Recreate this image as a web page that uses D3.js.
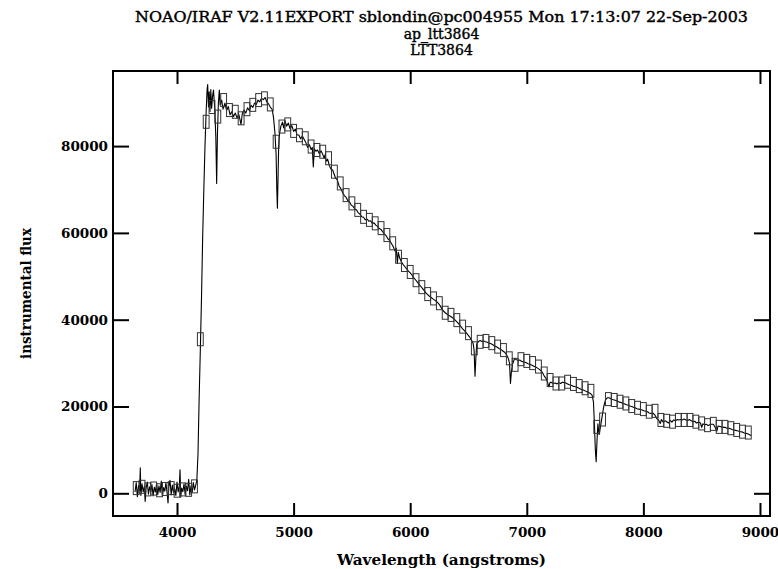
<!DOCTYPE html>
<html>
<head>
<meta charset="utf-8">
<script src="https://cdn.jsdelivr.net/npm/d3@7/dist/d3.min.js"></script>
<style>
body { margin: 0; background: #fff; }
text { font-family: "DejaVu Serif", serif; fill: #000; }
</style>
</head>
<body>
<div id="chart"></div>
<script>

var titleLines = ['NOAO/IRAF V2.11EXPORT sblondin@pc004955 Mon 17:13:07 22-Sep-2003', 'ap_ltt3864', 'LTT3864']
var xLabel = 'Wavelength (angstroms)'
var yLabel = 'instrumental flux'
var xTicks = [4000, 5000, 6000, 7000, 8000, 9000]
var yTicks = [0, 20000, 40000, 60000, 80000]

// bandpass boxes [wavelength, flux]
var bands = [
  [3650,1200],[3700,1500],[3750,900],[3800,1100],[3850,700],[3900,1000],[3950,1200],[4000,600],
  [4050,900],[4100,800],[4150,1600],[4200,35500],[4250,85600],[4300,89000],[4350,86800],[4400,90600],
  [4450,88300],[4500,87900],[4550,86400],[4600,88500],[4650,89500],[4700,90600],[4750,91000],[4800,89600],
  [4850,81000],[4900,84500],[4950,85000],[5000,83500],[5050,82500],[5100,81800],[5150,79900],[5200,79100],
  [5250,78700],[5300,77200],[5350,74100],[5400,71400],[5450,68700],[5500,66800],[5550,65300],[5600,63700],
  [5650,63000],[5700,62200],[5750,61100],[5800,59500],[5850,57600],[5900,54500],[5950,52600],[6000,51000],
  [6050,49100],[6100,47500],[6150,45900],[6200,44900],[6250,43800],[6300,41600],[6350,41100],[6400,39900],
  [6450,38400],[6500,36900],[6550,33400],[6600,34900],[6650,35100],[6700,34600],[6750,33800],[6800,33000],
  [6850,31100],[6900,29600],[6950,30900],[7000,30500],[7050,30000],[7100,29200],[7150,27600],[7200,26100],
  [7250,25300],[7300,25300],[7350,25700],[7400,25200],[7450,24700],[7500,24200],[7550,23600],[7600,15300],
  [7650,17000],[7700,21700],[7750,21500],[7800,21100],[7850,20700],[7900,20100],[7950,19700],[8000,19400],
  [8050,18800],[8100,19000],[8150,16900],[8200,16700],[8250,16500],[8300,16900],[8350,16900],[8400,16900],
  [8450,16500],[8500,16100],[8550,15700],[8600,16000],[8650,15300],[8700,15300],[8750,15000],[8800,14600],
  [8850,14200],[8900,14000]
]

// observed spectrum [wavelength, flux]
var spectrum = [
  [3640,300],[3650,2500],[3660,-800],[3670,1800],[3680,600],[3685,5900],[3690,-500],[3700,2200],
  [3710,300],[3720,1600],[3727,-1900],[3735,1200],[3745,2600],[3755,-200],[3765,1500],[3775,400],
  [3785,2000],[3795,-600],[3805,1400],[3815,300],[3825,2300],[3835,-300],[3845,1700],[3855,200],
  [3865,2800],[3875,-700],[3885,1300],[3895,500],[3905,2400],[3915,100],[3923,-2200],[3930,1500],
  [3940,3000],[3950,-400],[3960,1900],[3970,200],[3980,1000],[3990,-500],[4000,2600],[4010,300],
  [4020,1800],[4026,5400],[4032,-900],[4040,1200],[4050,400],[4060,2200],[4070,-300],[4080,1600],
  [4090,600],[4100,3200],[4110,-400],[4120,1700],[4130,200],[4140,2500],[4150,800],[4160,1800],
  [4170,3000],[4180,9000],[4190,22000],[4200,33000],[4210,45000],[4220,59000],[4230,70000],[4240,80000],
  [4250,88000],[4258,93000],[4263,94200],[4270,89000],[4276,92500],[4283,88000],[4290,93000],[4297,88700],
  [4305,91500],[4313,92900],[4325,88000],[4333,82000],[4340,71400],[4347,83000],[4355,90000],[4363,92900],
  [4370,89500],[4383,90600],[4395,88500],[4411,89900],[4425,88200],[4440,89100],[4455,87200],[4469,87900],
  [4485,86800],[4500,87600],[4515,86500],[4530,87300],[4549,85000],[4560,87500],[4575,88300],[4590,87600],
  [4605,88800],[4620,88200],[4635,89400],[4650,88900],[4665,89900],[4680,89600],[4695,90600],[4710,90200],
  [4725,91000],[4740,90700],[4755,91200],[4770,90200],[4783,89800],[4800,89000],[4817,88400],[4828,86500],
  [4840,83000],[4850,78000],[4856,70000],[4861,65700],[4866,72000],[4872,80000],[4880,83000],[4891,84600],
  [4905,85500],[4915,84200],[4926,85800],[4940,84600],[4955,85300],[4970,84000],[4985,84700],[5000,83400],
  [5015,83900],[5030,82600],[5046,82500],[5060,81700],[5075,82300],[5091,81500],[5105,80800],[5120,79700],
  [5135,80300],[5150,79200],[5160,79700],[5169,75200],[5178,79400],[5191,78800],[5205,79100],[5220,78300],
  [5235,78900],[5250,78100],[5262,77200],[5270,78000],[5280,76500],[5292,77000],[5305,75600],[5320,74700],
  [5335,74500],[5348,73500],[5360,72600],[5375,72200],[5390,70800],[5405,70200],[5420,69300],[5435,68600],
  [5450,68200],[5465,67400],[5480,67100],[5495,66400],[5510,66100],[5525,65500],[5540,65300],[5555,64600],
  [5570,64300],[5585,63700],[5600,63600],[5615,63000],[5630,63200],[5645,62700],[5660,62800],[5675,62200],
  [5690,62300],[5705,61800],[5720,61500],[5735,61000],[5750,60800],[5765,60200],[5780,59700],[5795,59300],
  [5810,58600],[5825,58200],[5840,57500],[5855,56800],[5870,55800],[5880,56500],[5890,53000],[5898,55500],
  [5910,54200],[5925,53300],[5940,52700],[5955,52200],[5970,51700],[5985,51200],[6000,50800],[6015,50300],
  [6030,49700],[6045,49200],[6060,48700],[6075,48200],[6090,47700],[6105,47200],[6120,46700],[6135,46200],
  [6150,45800],[6165,45400],[6180,45100],[6195,44800],[6210,44500],[6225,44200],[6240,43800],[6255,43300],
  [6270,42600],[6285,42000],[6300,41600],[6315,41300],[6330,41000],[6345,40800],[6360,40500],[6375,40200],
  [6390,39800],[6405,39400],[6420,38900],[6435,38400],[6450,37900],[6465,37500],[6480,37000],[6495,36500],
  [6510,36000],[6525,35300],[6540,34500],[6548,33000],[6556,27000],[6563,31000],[6570,34300],[6585,35000],
  [6600,35200],[6615,35000],[6630,35100],[6645,34900],[6660,34800],[6675,34600],[6690,34500],[6705,34300],
  [6720,34000],[6735,33800],[6750,33600],[6765,33300],[6780,33100],[6795,32800],[6810,32500],[6825,32000],
  [6840,31200],[6852,30000],[6860,25300],[6868,28000],[6878,29800],[6895,31000],[6910,30800],[6925,30600],
  [6940,30700],[6955,30400],[6970,30300],[6985,30200],[7000,30000],[7015,29800],[7030,29700],[7045,29500],
  [7060,29300],[7075,29100],[7090,28900],[7105,28600],[7120,28300],[7135,27800],[7150,27000],[7165,26500],
  [7180,25400],[7190,24500],[7200,25600],[7215,25500],[7230,25300],[7245,25400],[7260,25200],[7275,25500],
  [7290,25300],[7305,25600],[7320,25500],[7335,25400],[7350,25200],[7365,25000],[7380,24900],[7395,24700],
  [7410,24600],[7425,24500],[7440,24300],[7455,24100],[7470,23900],[7485,23800],[7500,23600],[7515,23400],
  [7530,23200],[7545,23000],[7560,22600],[7572,21000],[7580,16000],[7588,10000],[7595,7300],[7602,12000],
  [7610,16000],[7620,13500],[7630,15000],[7645,17500],[7660,20000],[7675,21500],[7690,22000],[7705,22000],
  [7720,21800],[7735,21600],[7750,21500],[7765,21400],[7780,21200],[7795,21000],[7810,20900],[7825,20700],
  [7840,20600],[7855,20400],[7870,20300],[7885,20100],[7900,20000],[7915,19800],[7930,19700],[7945,19500],
  [7960,19400],[7975,19300],[7990,19200],[8005,19000],[8020,18900],[8035,18800],[8050,18500],[8065,18400],
  [8080,18500],[8100,18000],[8115,17200],[8130,16900],[8145,16100],[8155,17000],[8170,16400],[8185,16700],
  [8200,16500],[8215,16200],[8230,16800],[8245,16400],[8260,16900],[8275,16700],[8290,17000],[8305,16900],
  [8320,17000],[8335,16900],[8350,17100],[8365,16900],[8380,16800],[8395,17000],[8410,16700],[8425,16500],
  [8440,16600],[8455,16200],[8475,16400],[8490,16200],[8500,15200],[8510,16000],[8525,15800],[8540,15900],
  [8555,15600],[8570,15800],[8585,15900],[8600,15900],[8615,15200],[8630,14300],[8640,15500],[8655,15400],
  [8670,15300],[8685,15200],[8700,15200],[8715,15000],[8730,15000],[8745,14900],[8760,14700],[8775,14600],
  [8790,14500],[8805,14400],[8820,14300],[8835,14200],[8850,14100],[8865,13900],[8880,13800],[8895,13700],
  [8910,13500],[8925,13300]
]

var svgWidth = 778
var svgHeight = 569
// plot frame (avoid window.top)
var frameL = 113, frameR = 770, frameT = 71, frameB = 516

var x = d3.scaleLinear().domain([3451, 9086]).range([frameL, frameR])
var y = d3.scaleLinear().domain([-5230, 97300]).range([frameB, frameT])

var svg = d3.select('#chart').append('svg')
  .attr('width', svgWidth)
  .attr('height', svgHeight)

// title, three centred lines
svg.selectAll('text.title')
  .data(titleLines)
  .enter()
  .append('text')
    .attr('class', 'title')
    .attr('x', (frameL + frameR) / 2)
    .attr('y', function(d, i) { return 22 + i * 16.5; })
    .attr('text-anchor', 'middle')
    .attr('font-size', 14)
    .attr('stroke', '#000')
    .attr('stroke-width', 0.4)
    .attr('textLength', function(d, i) { return i == 0 ? 613 : null; })
    .attr('lengthAdjust', 'spacingAndGlyphs')
    .text(function(d) { return d; })

// spectrum
svg.append('path')
  .datum(spectrum)
  .attr('fill', 'none')
  .attr('stroke', '#000')
  .attr('stroke-width', 1.1)
  .attr('stroke-linejoin', 'round')
  .attr('d', d3.line()
    .x(function(d) { return x(d[0]); })
    .y(function(d) { return y(d[1]); }))

// bandpass boxes, 50 A wide
svg.selectAll('rect.band')
  .data(bands)
  .enter()
  .append('rect')
    .attr('class', 'band')
    .attr('x', function(d) { return x(d[0] - 25); })
    .attr('width', function(d) { return x(d[0] + 25) - x(d[0] - 25); })
    .attr('y', function(d) { return y(d[1]) - 6.5; })
    .attr('height', 13)
    .attr('fill', 'none')
    .attr('stroke', '#333')
    .attr('stroke-width', 1)

// axes: ticks point inward on all four sides
svg.append('g')
  .attr('transform', 'translate(0,' + frameB + ')')
  .call(d3.axisBottom(x).tickValues(xTicks).tickSize(-13).tickPadding(11).tickFormat(d3.format('d')))
svg.append('g')
  .attr('transform', 'translate(0,' + frameT + ')')
  .call(d3.axisTop(x).tickValues(xTicks).tickSize(-13).tickFormat(''))
svg.append('g')
  .attr('transform', 'translate(' + frameL + ',0)')
  .call(d3.axisLeft(y).tickValues(yTicks).tickSize(-16).tickPadding(5).tickFormat(d3.format('d')))
svg.append('g')
  .attr('transform', 'translate(' + frameR + ',0)')
  .call(d3.axisRight(y).tickValues(yTicks).tickSize(-16).tickFormat(''))

svg.selectAll('.domain').remove()
svg.selectAll('.tick line').attr('stroke', '#000').attr('stroke-width', 2)
svg.selectAll('.tick text')
  .attr('font-family', '"DejaVu Serif", serif')
  .attr('font-size', 13.5)
  .attr('font-weight', 'bold')
  .attr('fill', '#000')

// frame
svg.append('rect')
  .attr('x', frameL)
  .attr('y', frameT)
  .attr('width', frameR - frameL)
  .attr('height', frameB - frameT)
  .attr('fill', 'none')
  .attr('stroke', '#000')
  .attr('stroke-width', 2)

svg.append('text')
  .attr('x', (frameL + frameR) / 2)
  .attr('y', 565)
  .attr('text-anchor', 'middle')
  .attr('font-size', 14)
  .attr('font-weight', 'bold')
  .attr('textLength', 209)
  .attr('lengthAdjust', 'spacingAndGlyphs')
  .text(xLabel)

svg.append('text')
  .attr('transform', 'translate(31,' + (frameT + frameB) / 2 + ') rotate(-90)')
  .attr('text-anchor', 'middle')
  .attr('font-size', 15)
  .attr('font-weight', 'bold')
  .attr('textLength', 131)
  .attr('lengthAdjust', 'spacingAndGlyphs')
  .text(yLabel)

</script>
</body>
</html>
